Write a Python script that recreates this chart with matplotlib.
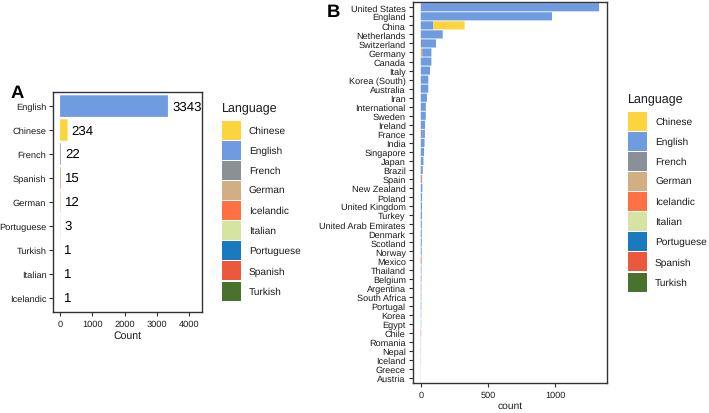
import numpy as np
import matplotlib
matplotlib.use("Agg")
import matplotlib.pyplot as plt
from matplotlib.patches import Rectangle

plt.rcParams['font.family'] = ['Liberation Sans', 'DejaVu Sans']
plt.rcParams['text.hinting'] = 'no_hinting'

# legend order / colours
languages = ["Chinese", "English", "French", "German", "Icelandic",
             "Italian", "Portuguese", "Spanish", "Turkish"]
lang_colors = {"Chinese": "#FDD43B", "English": "#6F9BE0", "French": "#8A9098",
               "German": "#D2AE85", "Icelandic": "#FF7043", "Italian": "#D6E4A2",
               "Portuguese": "#1A7ABF", "Spanish": "#EC583C", "Turkish": "#48722E"}

# panel A
a_langs = ["English", "Chinese", "French", "Spanish", "German",
           "Portuguese", "Turkish", "Italian", "Icelandic"]
a_counts = [3343, 234, 22, 15, 12, 3, 1, 1, 1]

# panel B
countries = ["United States", "England", "China", "Netherlands", "Switzerland",
             "Germany", "Canada", "Italy", "Korea (South)", "Australia", "Iran",
             "International", "Sweden", "Ireland", "France", "India", "Singapore",
             "Japan", "Brazil", "Spain", "New Zealand", "Poland", "United Kingdom",
             "Turkey", "United Arab Emirates", "Denmark", "Scotland", "Norway",
             "Mexico", "Thailand", "Belgium", "Argentina", "South Africa", "Portugal",
             "Korea", "Egypt", "Chile", "Romania", "Nepal", "Iceland", "Greece", "Austria"]
english = [1325, 975, 94, 163, 104, 68, 77, 68, 56, 56, 46,
           38, 37, 32, 20, 28, 24, 20, 13, 4, 12, 10, 9,
           8, 8, 8, 8, 7, 1, 5, 4, 2, 4, 3,
           3, 3, 1, 2, 2, 1, 1, 1]
chinese = {"China": 232, "International": 1, "Singapore": 1}
french = {"Switzerland": 8, "France": 11, "Canada": 2, "Belgium": 1}
german = {"Germany": 11, "Switzerland": 1}
spanish = {"Spain": 6, "Mexico": 5, "Argentina": 2, "Chile": 2}
portuguese = {"Brazil": 2, "Portugal": 1}
turkish = {"Turkey": 1}
italian = {"Italy": 1}
icelandic = {"Iceland": 1}

b_data = {"Chinese": [chinese.get(c, 0) for c in countries],
          "English": english,
          "French": [french.get(c, 0) for c in countries],
          "German": [german.get(c, 0) for c in countries],
          "Icelandic": [icelandic.get(c, 0) for c in countries],
          "Italian": [italian.get(c, 0) for c in countries],
          "Portuguese": [portuguese.get(c, 0) for c in countries],
          "Spanish": [spanish.get(c, 0) for c in countries],
          "Turkish": [turkish.get(c, 0) for c in countries]}

W, H = 709, 414
fig = plt.figure(figsize=(W / 100, H / 100), dpi=100)
TXT = '#1a1a1a'


def style(ax, fs):
    for s in ax.spines.values():
        s.set_color('#333333')
        s.set_linewidth(1.0)
    ax.tick_params(length=3, width=0.8, color='#333333', labelcolor=TXT,
                   labelsize=fs, pad=2)


def draw_legend(x, y_title, y_keys):
    # ggplot-like key column, pixel positions from the top-left corner
    fig.text(x / W, 1 - y_title / H, "Language", fontsize=9, va='center', ha='left', color=TXT)
    for i, lang in enumerate(languages):
        top = y_keys + i * 20.1
        fig.patches.append(Rectangle((x / W, 1 - (top + 19) / H), 19 / W, 19 / H,
                                     transform=fig.transFigure,
                                     facecolor=lang_colors[lang], edgecolor='none'))
        fig.text((x + 27) / W, 1 - (top + 9.5) / H, lang, fontsize=7.3,
                 va='center', ha='left', color=TXT)


# ---- panel A
axA = fig.add_axes([53.3 / W, 1 - 313.3 / H, 148.4 / W, 220.6 / H])
ya = np.arange(len(a_langs))
axA.barh(ya, a_counts, height=0.9, color=[lang_colors[l] for l in a_langs],
         edgecolor='none', snap=False)
for y, v in zip(ya, a_counts):
    axA.annotate(str(v), (v, y), xytext=(3, 0), textcoords='offset points',
                 va='center', ha='left', fontsize=9.5, color='black')
axA.set_yticks(ya)
axA.set_yticklabels(a_langs)
axA.set_xticks([0, 1000, 2000, 3000, 4000])
axA.set_xlim(-210, 4390)
axA.set_ylim(len(a_langs) - 0.4, -0.6)
axA.set_xlabel("Count", fontsize=7.6, labelpad=2, color=TXT)
style(axA, 6.7)
fig.text(11 / W, 1 - 93 / H, "A", fontsize=13.3, fontweight='bold', va='center', ha='left')

# ---- panel B
axB = fig.add_axes([412.7 / W, 1 - 384 / H, 194.6 / W, 380.7 / H])
yb = np.arange(len(countries))
left = np.zeros(len(countries))
for lang in languages[::-1]:
    vals = np.array(b_data[lang], dtype=float)
    nz = vals > 0
    axB.barh(yb[nz], vals[nz], left=left[nz], height=0.9, color=lang_colors[lang],
             edgecolor='none', snap=False)
    left += vals
axB.set_yticks(yb)
axB.set_yticklabels(countries)
axB.set_xticks([0, 500, 1000])
axB.set_xlim(-60, 1386)
axB.set_ylim(len(countries) - 0.45, -0.55)
axB.set_xlabel("count", fontsize=7.4, labelpad=2, color=TXT)
style(axB, 6.6)
fig.text(327 / W, 1 - 12 / H, "B", fontsize=13.3, fontweight='bold', va='center', ha='left')

# ---- legends
draw_legend(221.7, 109, 121.7)
draw_legend(628, 100, 112.7)

fig.savefig("out.png", dpi=100)
